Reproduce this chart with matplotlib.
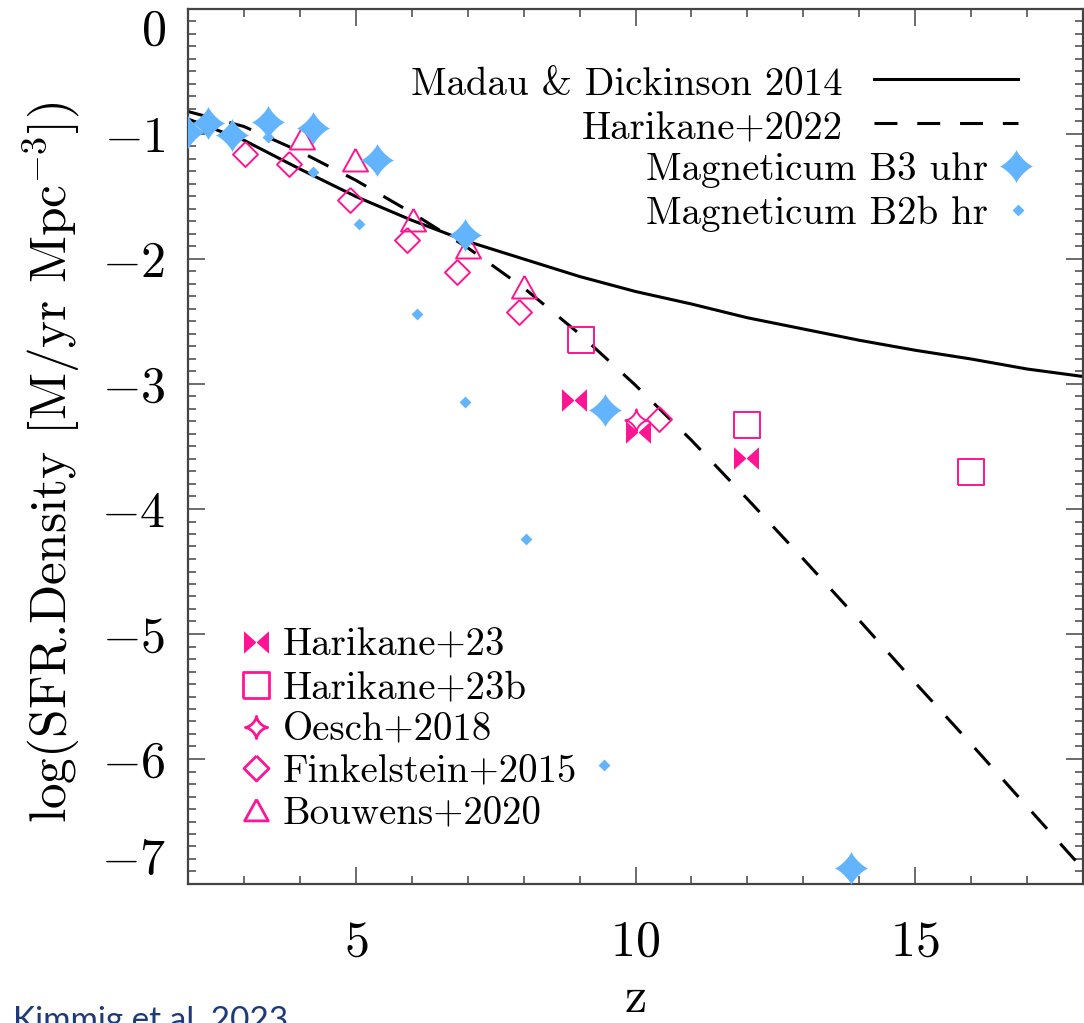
import matplotlib

matplotlib.use("Agg")
import matplotlib.pyplot as plt
import numpy as np
from matplotlib.lines import Line2D
from matplotlib.path import Path
from matplotlib.ticker import FuncFormatter, MultipleLocator

# cosmic SFR density curves, read at integer redshift
Z_CURVE = [2, 3, 4, 5, 6, 7, 8, 9, 10, 11, 12, 13, 14, 15, 16, 17, 18]
MADAU14 = [-0.88, -1.05, -1.28, -1.50, -1.69, -1.86, -2.00, -2.14, -2.26,
           -2.36, -2.47, -2.56, -2.65, -2.73, -2.80, -2.88, -2.94]
HARIKANE22 = [-0.82, -0.94, -1.14, -1.37, -1.63, -1.91, -2.23, -2.60, -3.01,
              -3.45, -3.92, -4.40, -4.89, -5.39, -5.88, -6.38, -6.88]

# Magneticum boxes
B3_UHR_Z = [2.0, 2.36, 2.78, 3.43, 4.24, 5.37, 6.95, 9.45, 13.86]
B3_UHR_SFR = [-0.98, -0.91, -1.01, -0.90, -0.95, -1.21, -1.81, -3.21, -6.87]
B2B_HR_Z = [3.43, 4.24, 5.06, 6.10, 6.95, 8.04, 9.43]
B2B_HR_SFR = [-1.02, -1.30, -1.72, -2.44, -3.14, -4.24, -6.05]

# observations
HARIKANE23_Z = [8.90, 10.04, 11.98]
HARIKANE23_SFR = [-3.13, -3.38, -3.59]
HARIKANE23B_Z = [9.02, 12.0, 16.0]
HARIKANE23B_SFR = [-2.65, -3.33, -3.70]
OESCH18_Z = [10.01]
OESCH18_SFR = [-3.29]
FINKELSTEIN15_Z = [3.02, 3.80, 4.90, 5.92, 6.81, 7.92, 10.42]
FINKELSTEIN15_SFR = [-1.16, -1.24, -1.53, -1.85, -2.10, -2.42, -3.28]
BOUWENS20_Z = [4.03, 4.98, 6.02, 7.01, 8.01]
BOUWENS20_SFR = [-1.03, -1.21, -1.69, -1.90, -2.22]

BLUE = "#62b4ff"
PINK = "#ff1493"


def star_path(k: float) -> Path:
    t = np.linspace(0, 2 * np.pi, 121)
    c, s = np.cos(t), np.sin(t)
    x = np.sign(c) * np.abs(c) ** k
    y = np.sign(s) * np.abs(s) ** k
    verts = np.column_stack([x, y])
    codes = [Path.MOVETO] + [Path.LINETO] * (len(verts) - 2) + [Path.CLOSEPOLY]
    return Path(verts, codes)


def bowtie_path() -> Path:
    verts = [(-1, -0.9), (0, 0), (-1, 0.9), (-1, -0.9),
             (1, -0.9), (0, 0), (1, 0.9), (1, -0.9)]
    codes = [Path.MOVETO, Path.LINETO, Path.LINETO, Path.CLOSEPOLY] * 2
    return Path(verts, codes)


STAR_FAT = star_path(2.5)
STAR_THIN = star_path(3.0)
BOWTIE = bowtie_path()
DIAMOND = Path([(0, 1), (1, 0), (0, -1), (-1, 0), (0, 1)])
SQUARE = Path([(-1, -1), (1, -1), (1, 1), (-1, 1), (-1, -1)])
TRIANGLE = Path([(0, 1), (1.08, -0.95), (-1.08, -0.95), (0, 1)])

plt.rcParams["font.family"] = "cmr10"
plt.rcParams["mathtext.fontset"] = "cm"
plt.rcParams["axes.formatter.use_mathtext"] = True

fig = plt.figure(figsize=(10.84, 10.23), dpi=100)
ax = fig.add_axes([188 / 1084, 1 - 884 / 1023, 895 / 1084, 875 / 1023])

ax.plot(Z_CURVE, MADAU14, color="black", lw=2.2, zorder=2)
ax.plot(Z_CURVE, HARIKANE22, color="black", lw=2.2, dashes=(7.5, 6.5), zorder=2)

open_kw = dict(linestyle="None", markerfacecolor="none", markeredgecolor=PINK,
               markeredgewidth=1.4, zorder=3)
ax.plot(HARIKANE23B_Z, HARIKANE23B_SFR, marker=SQUARE, markersize=18.5, **open_kw)
ax.plot(OESCH18_Z, OESCH18_SFR, marker=STAR_THIN, markersize=16, **open_kw)
ax.plot(FINKELSTEIN15_Z, FINKELSTEIN15_SFR, marker=DIAMOND, markersize=18, **open_kw)
ax.plot(BOUWENS20_Z, BOUWENS20_SFR, marker=TRIANGLE, markersize=18, **open_kw)
ax.plot(HARIKANE23_Z, HARIKANE23_SFR, marker=BOWTIE, markersize=18, linestyle="None",
        color=PINK, markeredgewidth=0, zorder=4)

ax.plot(B2B_HR_Z, B2B_HR_SFR, marker=DIAMOND, markersize=8.5, linestyle="None",
        color=BLUE, markeredgewidth=0, zorder=5)
ax.plot(B3_UHR_Z, B3_UHR_SFR, marker=STAR_FAT, markersize=24, linestyle="None",
        color=BLUE, markeredgewidth=0, zorder=6)

ax.set_xlim(2, 18)
ax.set_ylim(-7, 0)
ax.xaxis.set_major_locator(MultipleLocator(5))
ax.xaxis.set_minor_locator(MultipleLocator(1))
ax.yaxis.set_major_locator(MultipleLocator(1))
ax.yaxis.set_minor_locator(MultipleLocator(0.1))
ax.xaxis.set_major_formatter(FuncFormatter(lambda v, p: f"${int(round(v))}$"))
ax.yaxis.set_major_formatter(FuncFormatter(lambda v, p: f"${int(round(v))}$"))
ax.tick_params(which="both", direction="in", top=True, right=True, color="#444444", width=1.1)
ax.tick_params(which="major", length=12.5)
ax.tick_params(which="minor", length=6)
ax.tick_params(axis="x", which="major", labelsize=36, pad=26)
ax.tick_params(axis="y", which="major", labelsize=36, pad=16)
for spine in ax.spines.values():
    spine.set_color("#444444")
    spine.set_linewidth(1.6)

ax.set_xlabel("z", fontsize=36)
ax.xaxis.set_label_coords(0.5, -0.105)
ax.set_ylabel(r"log(SFR.Density [M/yr Mpc$^{-3}$])", fontsize=37)
ax.yaxis.set_label_coords(-0.118, 0.482)

# model legend, top right: label first, symbol after
text_kw = dict(transform=ax.transAxes, fontsize=28, va="center_baseline")
ax.text(0.7318, 0.9177, "Madau & Dickinson 2014", ha="right", **text_kw)
ax.text(0.7318, 0.8674, "Harikane+2022", ha="right", **text_kw)
ax.text(0.8939, 0.8206, "Magneticum B3 uhr", ha="right", **text_kw)
ax.text(0.8939, 0.7703, "Magneticum B2b hr", ha="right", **text_kw)
ax.add_line(Line2D([0.7665, 0.9274], [0.9200, 0.9200], transform=ax.transAxes,
                   color="black", lw=2.2))
ax.add_line(Line2D([0.7665, 0.9274], [0.8697, 0.8697], transform=ax.transAxes,
                   color="black", lw=2.2, dashes=(7.5, 6.5)))
ax.add_line(Line2D([0.9251], [0.8206], transform=ax.transAxes, marker=STAR_FAT,
                   markersize=24, color=BLUE, markeredgewidth=0, linestyle="None"))
ax.add_line(Line2D([0.9274], [0.7703], transform=ax.transAxes, marker=DIAMOND,
                   markersize=8.5, color=BLUE, markeredgewidth=0, linestyle="None"))

# observations legend, bottom left: symbol first, label after
obs_rows = [
    ("Harikane+23", BOWTIE, True, 18),
    ("Harikane+23b", SQUARE, False, 18.5),
    ("Oesch+2018", STAR_THIN, False, 16),
    ("Finkelstein+2015", DIAMOND, False, 18),
    ("Bouwens+2020", TRIANGLE, False, 17),
]
row_y = [0.2769, 0.2274, 0.1798, 0.1322, 0.0846]
for (label, marker, filled, size), y in zip(obs_rows, row_y):
    ax.add_line(Line2D([0.076], [y], transform=ax.transAxes, marker=marker, markersize=size,
                       markerfacecolor=PINK if filled else "none", markeredgecolor=PINK,
                       markeredgewidth=0 if filled else 2.0, linestyle="None"))
    ax.text(0.1061, y, label, ha="left", **text_kw)

fig.text(13 / 1084, -7 / 1023, "Kimmig et al. 2023", family="Lato", fontsize=24,
         color="#1f3a78", ha="left", va="baseline")

# keep the end labels of the y axis inside the frame
fig.canvas.draw()
for lbl in ax.get_yticklabels():
    if lbl.get_text() == "$0$":
        lbl.set_va("top")
    elif lbl.get_text() == "$-7$":
        lbl.set_va("bottom")

fig.savefig("out.png", dpi=100)
